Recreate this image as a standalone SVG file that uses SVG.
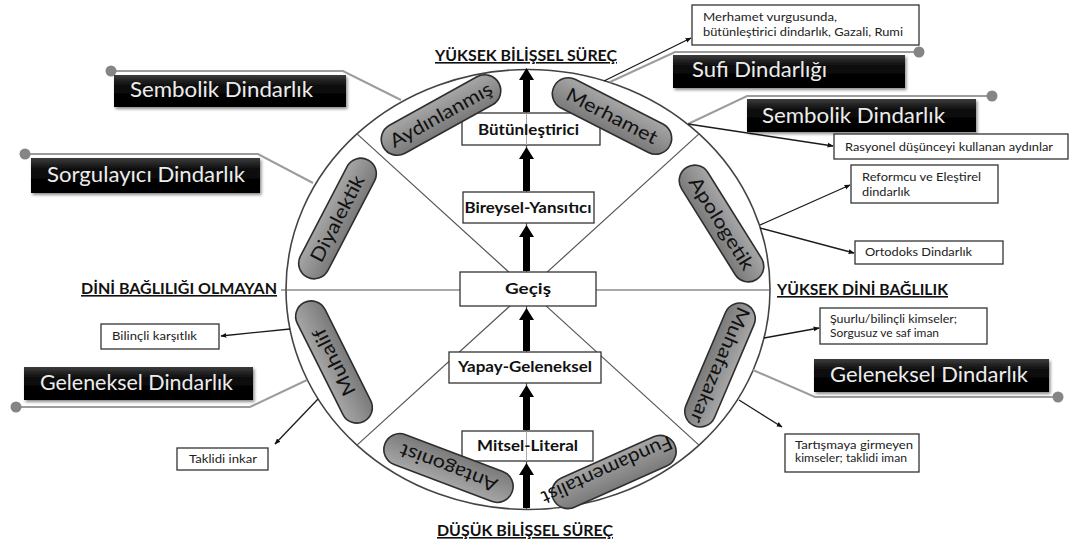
<svg xmlns="http://www.w3.org/2000/svg" width="1070" height="547" viewBox="0 0 1070 547">
<defs>
<linearGradient id="pillG" x1="0" y1="0" x2="0" y2="1">
<stop offset="0" stop-color="#a6a6a6"/>
<stop offset="1" stop-color="#7a7a7a"/>
</linearGradient>
<linearGradient id="blkG" x1="0" y1="0" x2="0" y2="1">
<stop offset="0" stop-color="#3c3c3c"/>
<stop offset="0.35" stop-color="#0a0a0a"/>
<stop offset="1" stop-color="#000"/>
</linearGradient>
<filter id="sh" x="-10%" y="-30%" width="120%" height="170%">
<feDropShadow dx="1.5" dy="2" stdDeviation="1.5" flood-color="#000" flood-opacity="0.45"/>
</filter>
<marker id="ah" viewBox="0 0 10 10" refX="9" refY="5" markerWidth="6" markerHeight="6" orient="auto" markerUnits="userSpaceOnUse">
<path d="M0,1 L10,5 L0,9 z" fill="#111"/>
</marker>
</defs>
<style>
.t{font-family:Lato,"Open Sans","Liberation Sans",sans-serif;}
.hdr{font-family:Lato,"Liberation Sans",sans-serif;font-weight:bold;font-size:16px;fill:#111;text-decoration:underline;}
.box{fill:#fff;stroke:#333;stroke-width:1.3;}
.bl{font-family:Lato,"Liberation Sans",sans-serif;font-weight:bold;font-size:15px;fill:#111;text-anchor:middle;}
.sm{font-family:Lato,"Liberation Sans",sans-serif;font-size:12px;fill:#222;}
.pill{fill:url(#pillG);stroke:#2e2e2e;stroke-width:1.6;}
.pt{font-family:Lato,"Liberation Sans",sans-serif;font-size:19px;fill:#111;text-anchor:middle;}
.blk{fill:url(#blkG);filter:url(#sh);}
.wt{font-family:Lato,"Liberation Sans",sans-serif;font-size:21px;fill:#ececec;text-anchor:middle;}
.gl{fill:none;stroke:#9c9c9c;stroke-width:2;}
.dot{fill:#858585;}
.ar{fill:none;stroke:#1a1a1a;stroke-width:1.3;marker-end:url(#ah);}
.ln{fill:none;stroke:#555;stroke-width:1.2;}
.thick{fill:#000;}
</style>

<g id="connectors">
<ellipse cx="528" cy="289.5" rx="242" ry="220" fill="#fff" stroke="#444" stroke-width="1.6"/>
<line class="ln" x1="526.5" y1="69.5" x2="526.5" y2="509.5" stroke="#888"/>
<line class="ln" x1="357" y1="133.9" x2="699" y2="445.1"/>
<line class="ln" x1="699" y1="133.9" x2="357" y2="445.1"/>
<line class="ln" x1="281" y1="290" x2="770" y2="290"/>
<!-- gray label connectors -->
<polyline class="gl" points="111,71 343,71 401,100"/>
<polyline class="gl" points="25,154 258,154 313,183"/>
<polyline class="gl" points="919,52 675,52 610,82"/>
<polyline class="gl" points="992,96 747,96 688,124"/>
<polyline class="gl" points="16,407 250,407 307,380"/>
<polyline class="gl" points="1058,397 815,397 753,370"/>
<circle class="dot" cx="111" cy="71" r="5.5"/>
<circle class="dot" cx="25" cy="154" r="5.5"/>
<circle class="dot" cx="919" cy="52" r="5.5"/>
<circle class="dot" cx="992" cy="96" r="5.5"/>
<circle class="dot" cx="16" cy="407" r="5.5"/>
<circle class="dot" cx="1058" cy="397" r="5.5"/>
<!-- annotation arrows -->
<line class="ar" x1="604" y1="81" x2="691" y2="38"/>
<line class="ar" x1="688" y1="124" x2="833" y2="146"/>
<line class="ar" x1="760" y1="225" x2="850" y2="185"/>
<line class="ar" x1="760" y1="228" x2="854" y2="253"/>
<line class="ar" x1="764" y1="338" x2="819" y2="328"/>
<line class="ar" x1="739" y1="400" x2="782" y2="427"/>
<line class="ar" x1="290" y1="329" x2="221" y2="336"/>
<line class="ar" x1="318" y1="399" x2="275" y2="444"/>
</g>

<g id="headers">
<text class="hdr" x="526" y="61" text-anchor="middle" textLength="182" lengthAdjust="spacingAndGlyphs">YÜKSEK BİLİŞSEL SÜREÇ</text>
<text class="hdr" x="525" y="536" text-anchor="middle" textLength="176" lengthAdjust="spacingAndGlyphs">DÜŞÜK BİLİŞSEL SÜREÇ</text>
<text class="hdr" x="81" y="294" textLength="196" lengthAdjust="spacingAndGlyphs">DİNİ BAĞLILIĞI OLMAYAN</text>
<text class="hdr" x="777" y="295" textLength="171" lengthAdjust="spacingAndGlyphs">YÜKSEK DİNİ BAĞLILIK</text>
</g>

<g id="stages">
<rect class="box" x="462" y="113" width="138" height="32"/>
<line x1="526.5" y1="113" x2="526.5" y2="145" stroke="#aaa" stroke-width="1"/>
<text class="bl" x="528.5" y="135" textLength="101" lengthAdjust="spacingAndGlyphs">Bütünleştirici</text>
<rect class="box" x="463" y="192" width="131" height="31"/>
<text class="bl" x="528" y="213" textLength="127" lengthAdjust="spacingAndGlyphs">Bireysel-Yansıtıcı</text>
<rect class="box" x="460" y="272" width="136" height="34"/>
<text class="bl" x="528" y="294" textLength="46" lengthAdjust="spacingAndGlyphs">Geçiş</text>
<rect class="box" x="449" y="352" width="152" height="31"/>
<text class="bl" x="525" y="372" textLength="134" lengthAdjust="spacingAndGlyphs">Yapay-Geleneksel</text>
<rect class="box" x="462" y="431" width="131" height="30"/>
<line x1="526.5" y1="431" x2="526.5" y2="461" stroke="#aaa" stroke-width="1"/>
<text class="bl" x="527.5" y="451" textLength="101" lengthAdjust="spacingAndGlyphs">Mitsel-Literal</text>
</g>

<g id="arrows">
<polygon class="thick" points="526.5,68 534,80 530,80 530,112 523,112 523,80 519,80"/>
<polygon class="thick" points="526.5,147 534,159 530,159 530,191 523,191 523,159 519,159"/>
<polygon class="thick" points="526.5,225 534,237 530,237 530,271 523,271 523,237 519,237"/>
<polygon class="thick" points="526.5,308 534,320 530,320 530,351 523,351 523,320 519,320"/>
<polygon class="thick" points="526.5,385 534,397 530,397 530,430 523,430 523,397 519,397"/>
<polygon class="thick" points="526.5,463 534,475 530,475 530,508 523,508 523,475 519,475"/>
</g>

<g id="pill-aydinlanmis" transform="translate(441,115) rotate(-29)">
<rect class="pill" x="-66" y="-16" width="132" height="32" rx="16"/>
<text class="pt" x="0" y="6.5" textLength="114" lengthAdjust="spacingAndGlyphs">Aydınlanmış</text>
</g>
<g id="pill-merhamet" transform="translate(612,116) rotate(27)">
<rect class="pill" x="-65" y="-16" width="130" height="32" rx="16"/>
<text class="pt" x="0" y="6.5" textLength="100" lengthAdjust="spacingAndGlyphs">Merhamet</text>
</g>
<g id="pill-diyalektik" transform="translate(337.5,218.5) rotate(-62.5)">
<rect class="pill" x="-66" y="-15.5" width="132" height="31" rx="15.5"/>
<text class="pt" x="0" y="6.5" textLength="95" lengthAdjust="spacingAndGlyphs">Diyalektik</text>
</g>
<g id="pill-apologetik" transform="translate(721.5,223.5) rotate(58)">
<rect class="pill" x="-66" y="-15.5" width="132" height="31" rx="15.5"/>
<text class="pt" x="0" y="6.5" textLength="106" lengthAdjust="spacingAndGlyphs">Apologetik</text>
</g>
<g id="pill-muhalif" transform="translate(334,362) rotate(243.4)">
<rect class="pill" x="-66.5" y="-15.5" width="133" height="31" rx="15.5"/>
<text class="pt" x="0" y="6.5" textLength="73" lengthAdjust="spacingAndGlyphs">Muhalif</text>
</g>
<g id="pill-muhafazakar" transform="translate(720,365) rotate(113)">
<rect class="pill" x="-66" y="-15.5" width="132" height="31" rx="15.5"/>
<text class="pt" x="0" y="6.5" textLength="124" lengthAdjust="spacingAndGlyphs">Muhafazakar</text>
</g>
<g id="pill-antagonist" transform="translate(448.5,468) rotate(200.7)">
<rect class="pill" x="-68" y="-16" width="136" height="32" rx="16"/>
<text class="pt" x="0" y="6.5" textLength="103" lengthAdjust="spacingAndGlyphs">Antagonist</text>
</g>
<g id="pill-fundamentalist">
<rect class="pill" transform="translate(614,472) rotate(-24)" x="-66.5" y="-16" width="133" height="32" rx="16"/>
<text class="pt" transform="translate(607,470) rotate(156)" x="0" y="6.5" textLength="141" lengthAdjust="spacingAndGlyphs">Fundamentalist</text>
</g>

<g id="label-sembolik-left">
<rect class="blk" x="114" y="75" width="232" height="32"/>
<text class="wt" x="221.5" y="97" textLength="183" lengthAdjust="spacingAndGlyphs">Sembolik Dindarlık</text>
</g>
<g id="label-sorgulayici">
<rect class="blk" x="31" y="158" width="229" height="35"/>
<text class="wt" x="146" y="182" textLength="198" lengthAdjust="spacingAndGlyphs">Sorgulayıcı Dindarlık</text>
</g>
<g id="label-sufi">
<rect class="blk" x="673" y="55" width="232" height="33"/>
<text class="wt" x="759.5" y="77" textLength="135" lengthAdjust="spacingAndGlyphs">Sufi Dindarlığı</text>
</g>
<g id="label-sembolik-right">
<rect class="blk" x="747" y="99" width="229" height="33"/>
<text class="wt" x="853.5" y="123" textLength="183" lengthAdjust="spacingAndGlyphs">Sembolik Dindarlık</text>
</g>
<g id="label-geleneksel-left">
<rect class="blk" x="24" y="367" width="229" height="33"/>
<text class="wt" x="136.5" y="390" textLength="193" lengthAdjust="spacingAndGlyphs">Geleneksel Dindarlık</text>
</g>
<g id="label-geleneksel-right">
<rect class="blk" x="814" y="359" width="235" height="33"/>
<text class="wt" x="929" y="382" textLength="198" lengthAdjust="spacingAndGlyphs">Geleneksel Dindarlık</text>
</g>

<g id="note-merhamet">
<rect class="box" x="692" y="5" width="227" height="40"/>
<text class="sm" x="703" y="21" textLength="134" lengthAdjust="spacingAndGlyphs">Merhamet vurgusunda,</text>
<text class="sm" x="703" y="36" textLength="200" lengthAdjust="spacingAndGlyphs">bütünleştirici dindarlık, Gazali, Rumi</text>
</g>
<g id="note-rasyonel">
<rect class="box" x="834" y="134" width="234" height="25"/>
<text class="sm" x="845" y="151" textLength="208" lengthAdjust="spacingAndGlyphs">Rasyonel düşünceyi kullanan aydınlar</text>
</g>
<g id="note-reformcu">
<rect class="box" x="851" y="165" width="147" height="38"/>
<text class="sm" x="862" y="181" textLength="119" lengthAdjust="spacingAndGlyphs">Reformcu ve Eleştirel</text>
<text class="sm" x="862" y="196" textLength="48" lengthAdjust="spacingAndGlyphs">dindarlık</text>
</g>
<g id="note-ortodoks">
<rect class="box" x="855" y="241" width="148" height="23"/>
<text class="sm" x="865" y="256" textLength="107" lengthAdjust="spacingAndGlyphs">Ortodoks Dindarlık</text>
</g>
<g id="note-suurlu">
<rect class="box" x="820" y="308" width="167" height="36"/>
<text class="sm" x="830" y="323" textLength="127" lengthAdjust="spacingAndGlyphs">Şuurlu/bilinçli kimseler;</text>
<text class="sm" x="830" y="337" textLength="109" lengthAdjust="spacingAndGlyphs">Sorgusuz ve saf iman</text>
</g>
<g id="note-tartismaya">
<rect class="box" x="785" y="434" width="134" height="38"/>
<text class="sm" x="795" y="449" textLength="118" lengthAdjust="spacingAndGlyphs">Tartışmaya girmeyen</text>
<text class="sm" x="795" y="462" textLength="112" lengthAdjust="spacingAndGlyphs">kimseler; taklidi iman</text>
</g>
<g id="note-bilincli">
<rect class="box" x="101" y="324" width="118" height="25"/>
<text class="sm" x="112" y="340" textLength="85" lengthAdjust="spacingAndGlyphs">Bilinçli karşıtlık</text>
</g>
<g id="note-taklidi">
<rect class="box" x="177" y="448" width="91" height="22"/>
<text class="sm" x="189" y="463" textLength="68" lengthAdjust="spacingAndGlyphs">Taklidi inkar</text>
</g>
</svg>
